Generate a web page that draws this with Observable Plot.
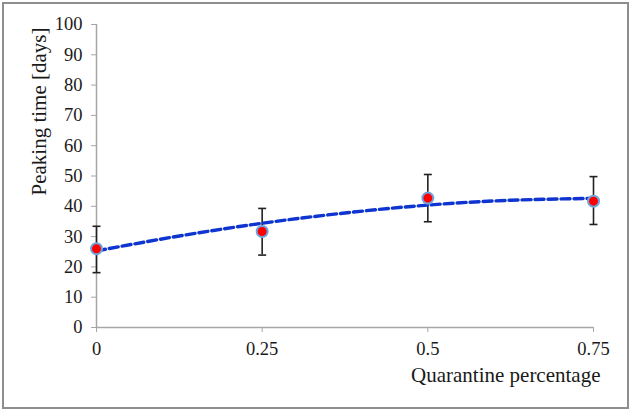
<!DOCTYPE html>
<html>
<head>
<meta charset="utf-8">
<script src="https://cdn.jsdelivr.net/npm/d3@7"></script>
<script src="https://cdn.jsdelivr.net/npm/@observablehq/plot@0.6"></script>
<style>
  html, body { margin: 0; padding: 0; background: #fff; }
  #wrap { position: relative; width: 632px; height: 415px; }
  #border { position: absolute; left: 2px; top: 2px; width: 627px; height: 407px; box-sizing: border-box; border: 2px solid #8e8e8e; pointer-events: none; }
  svg text { font-family: "Liberation Serif", serif !important; }
</style>
</head>
<body>
<div id="wrap"><div id="border"></div></div>
<script>
// Measured data points
const quarantine = [0, 0.25, 0.5, 0.75];
const peakDays = [26, 31.7, 42.7, 41.7];
const errLow = [18.1, 23.9, 34.9, 34.0];
const errHigh = [33.4, 39.3, 50.5, 49.8];

// Trend line
const trendX = [0, 0.125, 0.25, 0.375, 0.5, 0.625, 0.75];
const trendY = [25.3, 30.2, 34.4, 37.8, 40.4, 42.0, 42.6];

const yTicks = [0, 10, 20, 30, 40, 50, 60, 70, 80, 90, 100];
const xTicks = [0, 0.25, 0.5, 0.75];
const xTickLabels = ["0", "0.25", "0.5", "0.75"];

const points = quarantine.map((q, i) => ({x: q, y: peakDays[i], lo: errLow[i], hi: errHigh[i]}));
const trend = trendX.map((x, i) => ({x, y: trendY[i]}));

const capSymbol = {
  draw(ctx, size) {
    const r = Math.sqrt(size / Math.PI);
    ctx.moveTo(-r, 0);
    ctx.lineTo(r, 0);
  }
};

const serif = "Liberation Serif";

const chart = Plot.plot({
  width: 632,
  height: 415,
  marginLeft: 96,
  marginRight: 39,
  marginTop: 24,
  marginBottom: 88,
  style: { fontFamily: serif, fontSize: "18px", color: "#222", background: "transparent" },
  x: { domain: [0, 0.75] },
  y: { domain: [0, 100] },
  marks: [
    Plot.ruleX([0], { stroke: "#a6a6a6", strokeWidth: 1.5 }),
    Plot.ruleY([0], { stroke: "#a6a6a6", strokeWidth: 1.5 }),
    Plot.axisY({ ticks: yTicks, tickSize: 5, tickPadding: 9, stroke: "#a6a6a6", label: null, fill: "#1a1a1a", fontFamily: serif, fontSize: 18.5 }),
    Plot.axisX({ ticks: xTicks, tickFormat: (d, i) => xTickLabels[i], tickSize: 5, tickPadding: 9, stroke: "#a6a6a6", label: null, fill: "#1a1a1a", fontFamily: serif, fontSize: 18.5 }),
    Plot.text(["Peaking time [days]"], { frameAnchor: "top-left", dx: -65, dy: 3, rotate: -90, textAnchor: "end", fontSize: 21, fill: "#1a1a1a", fontFamily: serif }),
    Plot.text(["Quarantine percentage"], { frameAnchor: "bottom-right", dx: 7, dy: 54, textAnchor: "end", fontSize: 21, fill: "#1a1a1a", fontFamily: serif }),
    Plot.ruleX(points, { x: "x", y1: "lo", y2: "hi", stroke: "#222", strokeWidth: 1.6 }),
    Plot.dot(points, { x: "x", y: "lo", symbol: capSymbol, r: 4, stroke: "#222", strokeWidth: 1.6 }),
    Plot.dot(points, { x: "x", y: "hi", symbol: capSymbol, r: 4, stroke: "#222", strokeWidth: 1.6 }),
    Plot.line(trend, { x: "x", y: "y", curve: "natural", stroke: "#0f35d0", strokeWidth: 3.4, strokeDasharray: "9,4" }),
    Plot.dot(points, { x: "x", y: "y", r: 5.5, fill: "#ff0000", stroke: "#6ea5dc", strokeWidth: 2 })
  ]
});
document.getElementById("wrap").insertBefore(chart, document.getElementById("border"));
</script>
</body>
</html>
